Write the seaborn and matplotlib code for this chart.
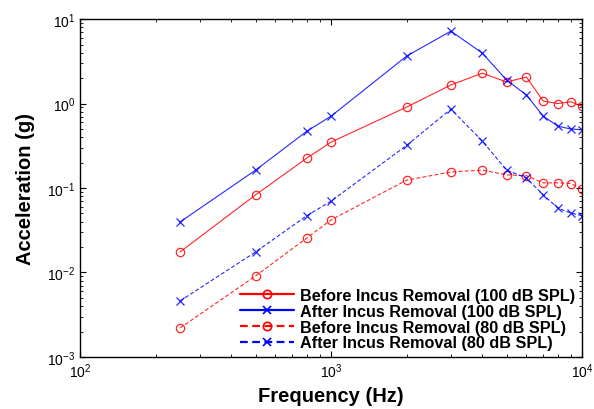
import numpy as np
import matplotlib
matplotlib.use("Agg")
import matplotlib.pyplot as plt
import seaborn as sns
import pandas as pd
from matplotlib.lines import Line2D

freqs = [250, 500, 800, 1000, 2000, 3000, 4000, 5000, 6000, 7000, 8000, 9000, 10000]

before_100 = [0.0175, 0.083, 0.226, 0.35, 0.91, 1.66, 2.29, 1.8, 2.06, 1.07, 1.0, 1.05, 0.93]
after_100 = [0.0396, 0.163, 0.47, 0.71, 3.65, 7.2, 3.96, 1.9, 1.26, 0.71, 0.54, 0.50, 0.49]
before_80 = [0.0022, 0.0091, 0.0256, 0.042, 0.124, 0.155, 0.163, 0.143, 0.14, 0.115, 0.115, 0.113, 0.097]
after_80 = [0.0046, 0.0175, 0.047, 0.07, 0.32, 0.86, 0.36, 0.163, 0.131, 0.083, 0.058, 0.0506, 0.047]

labels = ["Before Incus Removal (100 dB SPL)", "After Incus Removal (100 dB SPL)",
          "Before Incus Removal (80 dB SPL)", "After Incus Removal (80 dB SPL)"]

sns.set_style("ticks", {'axes.edgecolor': 'black', 'text.color': 'black',
                        'axes.labelcolor': 'black', 'xtick.color': 'black',
                        'ytick.color': 'black'})
plt.rcParams['font.family'] = ['Liberation Sans', 'DejaVu Sans']
plt.rcParams['mathtext.fontset'] = 'custom'
plt.rcParams['mathtext.rm'] = 'Liberation Sans'

series = [
    (before_100, labels[0], 'red', '-', 'o'),
    (after_100, labels[1], 'blue', '-', 'x'),
    (before_80, labels[2], 'red', (0, (3.5, 2)), 'o'),
    (after_80, labels[3], 'blue', (0, (3.5, 2)), 'x'),
]

fig = plt.figure(figsize=(5.94, 4.10), dpi=100)
ax = fig.add_axes([0.135, 0.127, 0.845, 0.824])

handles = []
for vals, lab, col, ls, mk in series:
    df = pd.DataFrame({'f': freqs, 'a': vals})
    sns.lineplot(data=df, x='f', y='a', ax=ax, color=col, linestyle=ls, lw=0.8,
                 marker=mk, markersize=6, markerfacecolor='none', markeredgecolor=col,
                 markeredgewidth=0.9, alpha=0.85)
    handles.append(Line2D([0], [0], color=col, linestyle=ls, lw=1.6, marker=mk,
                          markersize=6, markerfacecolor='none', markeredgecolor=col,
                          markeredgewidth=1.2))

ax.set_xscale('log')
ax.set_yscale('log')
ax.set_xlim(100, 10000)
ax.set_ylim(1e-3, 10)

ax.tick_params(which='both', direction='in', top=True, right=True, labelsize=10,
               colors='black')
ax.tick_params(which='major', length=4, width=0.8)
ax.tick_params(which='minor', length=2, width=0.6)
for s in ax.spines.values():
    s.set_linewidth(1.0)
    s.set_color('black')

ax.set_xlabel('Frequency (Hz)', fontsize=14.5, fontweight='bold', labelpad=4, color='black')
ax.set_ylabel('Acceleration (g)', fontsize=14.5, fontweight='bold', labelpad=9, color='black')

ax.legend(handles, labels, loc='lower right', bbox_to_anchor=(1.0, 0.0), frameon=False,
          prop={'weight': 'bold', 'size': 11.7}, handlelength=3.3, handletextpad=0.4,
          labelspacing=0.05, borderaxespad=0.0, labelcolor='black')

fig.savefig('out.png', dpi=100)
